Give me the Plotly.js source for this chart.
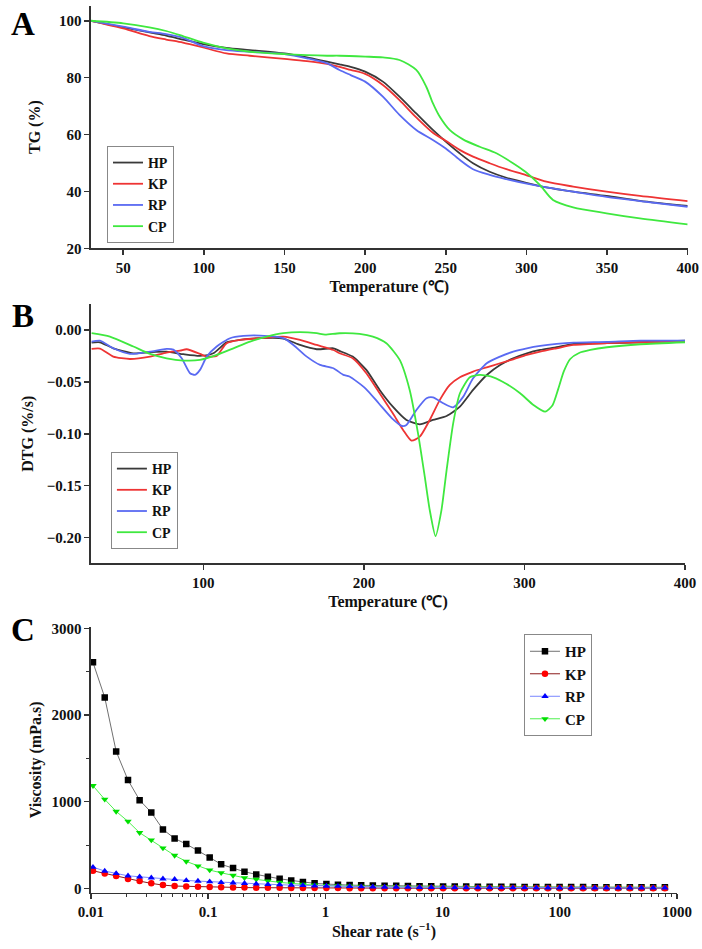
<!DOCTYPE html>
<html>
<head>
<meta charset="utf-8">
<script src="https://cdn.plot.ly/plotly-3.0.1.min.js"></script>
<style>
  html, body { margin: 0; padding: 0; background: #fff; }
  #chart { width: 702px; height: 949px; }
</style>
</head>
<body>
<div id="chart"></div>
<script>
/* ── A: TG curves ── */
const tgTemp = [30, 50, 66.2, 76.6, 87, 99.5, 114, 128.6, 150, 163.9, 176.4, 184.1, 191, 200, 211, 221.3, 231.7, 242, 250, 258.6, 266.9, 277.2, 287.6, 299.4, 312.4, 329, 349.7, 370.4, 400];
const tgHP = [100, 97.7, 95.9, 94.8, 93.4, 91.8, 90.5, 89.7, 88.5, 87.1, 85.6, 84.7, 83.8, 82.1, 78.6, 73.3, 67.4, 61.6, 57.5, 53.4, 49.9, 46.9, 44.8, 43.1, 41.4, 39.9, 38.4, 36.7, 34.9];
const tgKP = [100, 97.3, 94.6, 93.4, 92.3, 90.6, 88.5, 87.7, 86.6, 85.8, 84.8, 83.8, 82.7, 81.3, 77.4, 72.1, 66.0, 60.6, 57.8, 54.6, 52.2, 49.9, 47.8, 45.8, 43.4, 41.7, 39.9, 38.4, 36.6];
const tgRP = [100, 97.9, 96.1, 95.3, 94.0, 91.1, 89.7, 89.1, 88.3, 86.8, 85.0, 82.7, 80.9, 78.6, 73.3, 66.9, 61.6, 58.1, 55.1, 51.1, 47.8, 45.8, 44.3, 42.8, 41.4, 39.9, 38.1, 36.6, 34.6];
const tgCpTemp = [30, 50, 66.2, 76.6, 87, 99.5, 114, 128.6, 150, 163.9, 176.4, 184.1, 200, 211, 221.3, 231.7, 237.9, 242, 246.2, 252.4, 260.7, 271, 281.4, 291.7, 299.4, 308.3, 316.5, 329, 349.7, 370.4, 400];
const tgCP = [100, 99.1, 97.7, 96.4, 94.6, 92.3, 90.3, 89.1, 88.3, 87.9, 87.7, 87.7, 87.4, 87.1, 86.2, 82.7, 76.8, 71.0, 66.3, 61.6, 58.3, 55.7, 53.4, 49.9, 46.9, 42.3, 37.0, 34.4, 32.3, 30.5, 28.4];

/* ── B: DTG curves ── */
const dtgHPTemp = [30.4, 35.6, 43.9, 56.4, 66.8, 77.1, 87.5, 97.9, 106.2, 114.5, 122.8, 135.3, 149.8, 160.2, 170.6, 181, 184.8, 193, 201.5, 209.8, 218, 226.5, 234.8, 243, 251.5, 259.8, 268, 276.5, 284.8, 293, 301.5, 309.8, 320, 330.6, 351.4, 372.3, 400];
const dtgHP = [-0.0122, -0.0119, -0.0177, -0.0225, -0.0215, -0.021, -0.0234, -0.025, -0.0225, -0.012, -0.0096, -0.008, -0.0083, -0.0145, -0.0186, -0.0177, -0.0202, -0.0257, -0.0385, -0.0578, -0.0739, -0.0867, -0.0909, -0.0867, -0.0829, -0.0739, -0.0578, -0.0434, -0.0337, -0.0273, -0.0225, -0.0193, -0.0167, -0.0135, -0.0128, -0.0119, -0.0103];
const dtgKPTemp = [30.4, 35.6, 43.9, 54.3, 66.8, 77.1, 85.5, 89.6, 97.9, 102.1, 108.3, 114.5, 122.8, 135.3, 149.8, 160.2, 170.6, 181, 184.8, 193, 201.5, 209.8, 218, 224.4, 229.6, 234.8, 241, 247.3, 253.5, 259.8, 268, 276.5, 284.8, 293, 301.5, 309.8, 320, 330.6, 351.4, 372.3, 400];
const dtgKP = [-0.0183, -0.018, -0.0257, -0.028, -0.0257, -0.0218, -0.02, -0.0186, -0.0231, -0.0257, -0.025, -0.0128, -0.0096, -0.008, -0.0064, -0.0096, -0.0145, -0.0193, -0.0225, -0.0273, -0.0417, -0.061, -0.0803, -0.0963, -0.1066, -0.1028, -0.0867, -0.0674, -0.053, -0.0456, -0.0401, -0.036, -0.0321, -0.0283, -0.0241, -0.0209, -0.0177, -0.0145, -0.0128, -0.0119, -0.0112];
const dtgRPTemp = [30.4, 35.6, 43.9, 54.3, 66.8, 77.1, 81.3, 86.5, 91.7, 94.8, 97.9, 102.1, 108.3, 116.6, 124.9, 135.3, 149.8, 156.1, 164.4, 172.7, 181, 187.2, 191, 200.9, 209.2, 217.5, 223.8, 226.5, 232.7, 239, 243, 249.4, 255.6, 261.9, 268, 276.5, 284.8, 293, 301.5, 309.8, 320, 330.6, 351.4, 372.3, 400];
const dtgRP = [-0.0112, -0.0103, -0.0177, -0.0231, -0.0209, -0.0183, -0.019, -0.0273, -0.0417, -0.0433, -0.0385, -0.0257, -0.016, -0.008, -0.0058, -0.0055, -0.008, -0.0145, -0.0257, -0.0337, -0.0369, -0.0433, -0.0449, -0.0562, -0.0706, -0.0851, -0.0925, -0.0915, -0.0771, -0.0658, -0.0649, -0.0706, -0.0745, -0.0642, -0.0466, -0.0321, -0.0257, -0.0209, -0.0177, -0.0154, -0.0135, -0.0122, -0.0115, -0.0103, -0.0103];
const dtgCPTemp = [30.4, 41.8, 56.4, 66.8, 77.1, 87.5, 97.9, 108.3, 118.7, 129.1, 139.5, 149.8, 160.2, 170.6, 175.8, 184.8, 197.3, 205.6, 214, 222.3, 228.5, 233.7, 237.9, 241, 244.6, 248.3, 251.5, 255.6, 259.8, 266, 272.3, 280.6, 288.9, 297.3, 305.6, 312.9, 317.5, 321, 324.5, 328.5, 334, 341, 351.4, 372.3, 400];
const dtgCP = [-0.0032, -0.0064, -0.016, -0.0231, -0.0273, -0.0295, -0.0289, -0.0241, -0.0177, -0.0112, -0.0064, -0.0032, -0.0022, -0.0032, -0.0045, -0.0032, -0.0038, -0.0064, -0.0128, -0.0289, -0.0578, -0.0996, -0.1413, -0.1734, -0.1985, -0.1734, -0.1349, -0.0899, -0.061, -0.0456, -0.0433, -0.0456, -0.052, -0.061, -0.0723, -0.0787, -0.0725, -0.057, -0.04, -0.028, -0.0222, -0.0193, -0.0167, -0.0138, -0.0119];

/* ── C: viscosity vs shear rate ── */
const shearRate = [0.0104, 0.0131, 0.0164, 0.0207, 0.026, 0.0327, 0.0411, 0.0517, 0.065, 0.0818,
  0.103, 0.129, 0.163, 0.204, 0.257, 0.323, 0.407, 0.511, 0.643, 0.809,
  1.02, 1.28, 1.61, 2.02, 2.54, 3.2, 4.02, 5.06, 6.36, 8.0,
  10.1, 12.7, 15.9, 20, 25.2, 31.7, 39.8, 50.1, 63, 79.2,
  99.6, 125, 158, 199, 250, 315, 396, 498, 626, 788];
const viscHP = [2607, 2203, 1580, 1249, 1018, 876, 680, 576, 511, 438, 357, 277, 234, 192, 161, 134, 111, 92, 73, 58, 50, 42, 38, 35, 33, 31, 29, 27, 25, 24, 23, 22, 21, 20, 19, 18, 18, 17, 17, 16, 16, 15, 15, 14, 14, 14, 13, 13, 13, 12];
const viscKP = [203, 173, 142, 107, 84, 58, 38, 27, 23, 18, 15, 12, 10, 9, 8, 7, 6, 5, 5, 4, 4, 4, 3, 3, 3, 3, 3, 3, 2, 2, 2, 2, 2, 2, 2, 2, 2, 2, 2, 2, 2, 2, 2, 2, 2, 2, 2, 2, 2, 2];
const viscRP = [245, 200, 173, 145, 134, 122, 111, 104, 92, 84, 77, 69, 65, 58, 52, 46, 42, 38, 34, 30, 27, 25, 22, 20, 18, 16, 15, 14, 13, 12, 11, 10, 10, 9, 9, 8, 8, 8, 7, 7, 7, 7, 6, 6, 6, 6, 6, 6, 6, 6];
const viscCP = [1184, 1027, 888, 773, 642, 557, 465, 380, 311, 257, 211, 180, 150, 122, 104, 84, 69, 58, 46, 38, 32, 28, 25, 23, 21, 20, 19, 18, 17, 17, 16, 16, 15, 15, 15, 14, 14, 14, 13, 13, 13, 13, 12, 12, 12, 12, 11, 11, 11, 11];

const names = ["HP", "KP", "RP", "CP"];
const lineColors = ["#3a3a3a", "#ee3434", "#5a6af2", "#3fe83f"];

const FONT = "Liberation Serif, Times New Roman, serif";
const AXIS_COLOR = "#333";

/* ── traces ── */
const tgSets  = [[tgTemp, tgHP], [tgTemp, tgKP], [tgTemp, tgRP], [tgCpTemp, tgCP]];
const dtgSets = [[dtgHPTemp, dtgHP], [dtgKPTemp, dtgKP], [dtgRPTemp, dtgRP], [dtgCPTemp, dtgCP]];

const tgTraces = tgSets.map(([x, y], i) => ({
  type: "scatter", mode: "lines", x, y, name: names[i],
  xaxis: "x", yaxis: "y", legend: "legend",
  line: { color: lineColors[i], width: 1.8, shape: "spline", smoothing: 0.8 },
}));
const dtgTraces = dtgSets.map(([x, y], i) => ({
  type: "scatter", mode: "lines", x, y, name: names[i],
  xaxis: "x2", yaxis: "y2", legend: "legend2",
  line: { color: lineColors[i], width: 1.8, shape: "spline", smoothing: 0.6 },
}));

const viscSets = [viscHP, viscKP, viscRP, viscCP];
const viscLine   = ["#707070", "#8b1a1a", "#7a86ff", "#4ef04e"];
const viscMarker = ["#000000", "#ff0000", "#0000ff", "#00e000"];
const viscSymbol = ["square", "circle", "triangle-up", "triangle-down"];
const drawOrder  = [0, 3, 1, 2];
const viscTraces = drawOrder.map(i => ({
  type: "scatter", mode: "lines+markers", x: shearRate, y: viscSets[i], name: names[i],
  xaxis: "x3", yaxis: "y3", legend: "legend3", legendrank: i + 1,
  line: { color: viscLine[i], width: 1 },
  marker: { symbol: viscSymbol[i], color: viscMarker[i], size: 6.5 },
}));

// minor tick spots on the log axis: 2..9 of each decade
const logMinor = [];
[0.01, 0.1, 1, 10, 100].forEach(d => { for (let k = 2; k <= 9; k++) logMinor.push(d * k); });

/* ── layout ── */
const baseAxis = {
  showline: true, linecolor: AXIS_COLOR, linewidth: 1.5,
  ticks: "outside", ticklen: 5, tickwidth: 1.5, tickcolor: AXIS_COLOR,
  showgrid: false, zeroline: false,
  tickfont: { family: FONT, size: 15, weight: 700, color: "#111" },
};
const titleFont = { family: FONT, size: 16, weight: 700, color: "#111" };
const legendBase = {
  xanchor: "left", yanchor: "top",
  bgcolor: "#fff", bordercolor: "#888", borderwidth: 1,
  font: { family: FONT, size: 14, weight: 700, color: "#111" },
  tracegroupgap: 0, itemwidth: 30,
};

const layout = {
  width: 702, height: 949,
  margin: { l: 0, r: 0, t: 0, b: 0 },
  paper_bgcolor: "#fff", plot_bgcolor: "#fff",
  showlegend: true,
  xaxis: { ...baseAxis, domain: [0.1296, 0.9796], anchor: "y", range: [30, 400], dtick: 50, tick0: 0,
    title: { text: "Temperature (℃)", font: titleFont, standoff: 6 } },
  yaxis: { ...baseAxis, domain: [0.7384, 0.9937], anchor: "x", range: [20, 105.2], dtick: 20, tick0: 0,
    title: { text: "TG (%)", font: titleFont, standoff: 14 } },
  xaxis2: { ...baseAxis, domain: [0.1296, 0.9758], anchor: "y2", range: [30, 400], dtick: 100, tick0: 0,
    title: { text: "Temperature (℃)", font: titleFont, standoff: 6 } },
  yaxis2: { ...baseAxis, domain: [0.4064, 0.6794], anchor: "x2", range: [-0.2247, 0.0247], dtick: 0.05, tick0: 0,
    tickformat: ".2f",
    title: { text: "DTG (%/s)", font: titleFont, standoff: 9 } },
  xaxis3: { ...baseAxis, domain: [0.1296, 0.9644], anchor: "y3", type: "log", range: [-2, 3], dtick: 1,
    exponentformat: "none",
    minor: { tickmode: "array", tickvals: logMinor, ticks: "outside", ticklen: 3, tickwidth: 1, tickcolor: AXIS_COLOR },
    title: { text: "Shear rate (s<sup>−1</sup>)", font: titleFont, standoff: 6 } },
  yaxis3: { ...baseAxis, domain: [0.0593, 0.3393], anchor: "x3", range: [-50, 3015], dtick: 1000, tick0: 0,
    minor: { ticks: "outside", ticklen: 3, tickwidth: 1, tickcolor: AXIS_COLOR, dtick: 500 },
    title: { text: "Viscosity (mPa.s)", font: titleFont, standoff: 6 } },
  legend:  { ...legendBase, x: 0.1524, y: 0.8462 },
  legend2: { ...legendBase, x: 0.158, y: 0.5237 },
  legend3: { ...legendBase, x: 0.7464, y: 0.3319, font: { family: FONT, size: 15, weight: 700, color: "#111" } },
  annotations: [["A", 0.9747], ["B", 0.667], ["C", 0.3361]].map(([t, y]) => ({
    text: t, xref: "paper", yref: "paper", x: 0.033, y,
    xanchor: "center", yanchor: "middle", showarrow: false,
    font: { family: FONT, size: 33, weight: 700, color: "#000" },
  })),
};

Plotly.newPlot("chart", [...tgTraces, ...dtgTraces, ...viscTraces], layout, { staticPlot: true, displayModeBar: false });
</script>
</body>
</html>
